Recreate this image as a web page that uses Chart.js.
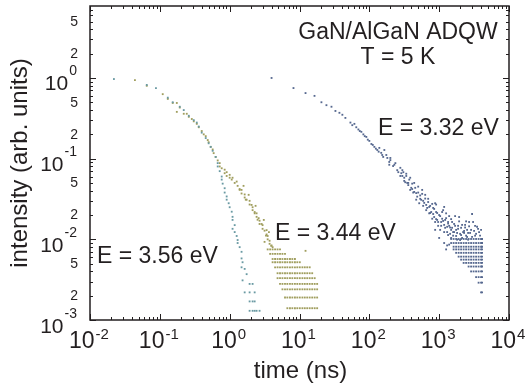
<!DOCTYPE html>
<html>
<head>
<meta charset="utf-8">
<script src="https://cdn.jsdelivr.net/npm/chart.js@4.4.1/dist/chart.umd.min.js"></script>
<style>
  html, body { margin: 0; padding: 0; background: #fff; }
  #wrap { width: 527px; height: 390px; }
</style>
</head>
<body>
<div id="wrap"><canvas id="decayChart"></canvas></div>
<script>
// axis decades and the small labels on the intensity axis
const xDecades = [-2, -1, 0, 1, 2, 3, 4];
const yDecades = [0, -1, -2, -3];
const yMinorLabels = [5, 2, 0.5, 0.2, 0.05, 0.02, 0.005, 0.002];
const xTitle = 'time (ns)';
const yTitle = 'intensity (arb. units)';
const sampleText = ['GaN/AlGaN ADQW', 'T = 5 K'];
const seriesNames = ['E = 3.56 eV', 'E = 3.44 eV', 'E = 3.32 eV'];
const seriesColors = ['#6a9aa3', '#a09e5e', '#56688f'];

// [time (ns), intensity]
const e356 = [
  [0.022,0.97],[0.065,0.82],[0.088,0.75],[0.13,0.57],[0.153,0.50],[0.193,0.44],[0.22,0.40],
  [0.26,0.34],[0.306,0.30],[0.338,0.28],[0.361,0.25],[0.398,0.21],[0.454,0.18],[0.50,0.155],
  [0.535,0.14],[0.571,0.125],[0.63,0.105],[0.674,0.088],[0.674,0.080],[0.72,0.070],[0.769,0.060],
  [0.769,0.055],[0.794,0.049],[0.848,0.043],[0.848,0.038],[0.906,0.034],[0.906,0.031],[0.968,0.028],
  [1.0,0.025],[1.07,0.022],[1.10,0.019],[1.10,0.0174],[1.10,0.0135],[1.18,0.0150],[1.18,0.0123],
  [1.26,0.0110],[1.30,0.0098],[1.30,0.0090],[1.39,0.0080],[1.48,0.0070],[1.48,0.0058],[1.53,0.0052],
  [1.48,0.0045],[1.64,0.0043],[1.75,0.0037],[1.53,0.0031],[1.93,0.0028],[2.13,0.0028],
  [1.64,0.0022],[1.93,0.0022],[2.28,0.0022],[1.93,0.0017],[2.13,0.0017],[2.28,0.0017],
  [1.93,0.0013],[2.13,0.0013],[2.28,0.0013],[2.43,0.0013],[2.68,0.0013]
];

const e344Decay = [
  [0.044,0.94],[0.065,0.80],[0.11,0.63],[0.13,0.55],[0.153,0.49],[0.175,0.49],[0.175,0.38],
  [0.193,0.43],[0.22,0.36],[0.243,0.36],[0.26,0.33],[0.287,0.31],[0.306,0.29],[0.338,0.27],
  [0.361,0.245],[0.398,0.22],[0.425,0.20],[0.454,0.19],[0.485,0.17],[0.50,0.16],[0.535,0.14],
  [0.571,0.13],[0.59,0.117],[0.63,0.105],[0.674,0.095],[0.72,0.088],[0.72,0.080],[0.769,0.076],
  [0.848,0.073],[0.848,0.066],[0.906,0.068],[0.906,0.061],[1.0,0.063],[1.0,0.058],[1.07,0.055],
  [1.10,0.058],[1.18,0.050],[1.26,0.052],[1.30,0.046],[1.39,0.042],[1.39,0.041],[1.48,0.041],
  [1.48,0.037],[1.58,0.046],[1.64,0.036],[1.64,0.033],[1.70,0.031],[1.75,0.031],[1.87,0.0356],
  [1.93,0.030],[1.93,0.027],[2.06,0.0267],[2.13,0.025],[2.13,0.023],[2.28,0.021],[2.28,0.0218],
  [2.35,0.026],[2.43,0.019],[2.43,0.021],[2.51,0.0175],[2.60,0.0183],[2.68,0.0170],[2.68,0.0155],
  [2.87,0.0155],[2.96,0.0150],[2.96,0.0135],[3.08,0.0174],[3.16,0.0128],[3.16,0.0093],
  [3.31,0.0111],[3.38,0.0130],[3.38,0.0115],[3.5,0.0110],[3.5,0.0100],[3.65,0.0123],
  [3.73,0.0096],[3.73,0.0088],[3.94,0.0083],[3.98,0.0084],[4.12,0.0080],[12.2,0.0072]
];

// time channels of the 3.44 eV tail and the count levels seen as rows
const tail344Times = [3.5, 3.8, 4.12, 4.47, 4.85, 5.26, 5.7, 6.2, 6.7, 7.3, 7.9, 8.6, 9.3,
  10.1, 11.0, 11.9, 12.9, 14.0, 15.2, 16.5, 17.9];
const tail344Levels = [0.0075, 0.0066, 0.0057, 0.0052, 0.0045, 0.0038, 0.0033, 0.0028,
  0.0024, 0.0019, 0.0014];
const tail344From = [3.5, 3.8, 4.12, 4.12, 4.47, 4.85, 4.85, 5.26, 5.7, 6.2, 6.7];
const tail344To = [5.5, 6.5, 8.6, 10.1, 14.0, 15.2, 16.5, 17.9, 17.9, 17.9, 17.9];

const e332Decay = [
  [3.98,1.0],[8.2,0.75],[12.2,0.65],[16.4,0.60],[20.6,0.50],[24.3,0.46],[28.7,0.44],[32.7,0.39],
  [37.3,0.37],[41.1,0.35],[45.4,0.32],[53.6,0.28],[57,0.26],[61.1,0.27],[65,0.245],[69.7,0.23],
  [73,0.22],[76.9,0.215],[82.1,0.20],[86,0.19],[90.6,0.186],[95,0.172],[100,0.166],[107,0.152],
  [112,0.148],[118,0.14],[124,0.133],[130,0.128],[136,0.122],[139,0.136],[148,0.118],[153,0.111],
  [158,0.105],[164,0.128],[175,0.111],[181,0.102],[193,0.084],[193,0.091],[200,0.096],[200,0.102],
  [219,0.081],[228,0.084],[236,0.088],[251,0.072],[260,0.068],[278,0.077],[287,0.066],[297,0.061],
  [307,0.068],[316,0.058],[327,0.051],[338,0.061],[349,0.050],[361,0.047],[373,0.055],[385,0.041],
  [398,0.0435],[411,0.049],[425,0.038],[439,0.0387],[454,0.0435],[469,0.031],[485,0.0338],
  [501,0.038],[518,0.028],[535,0.035],[553,0.0309],[571,0.041],[590,0.026],[611,0.0283],
  [631,0.032],[652,0.023],[674,0.0245],[696,0.029],[720,0.021],[743,0.026],[769,0.0218],
  [795,0.018],[821,0.0245],[848,0.0189],[876,0.0164],[876,0.0131],[905,0.0218],[905,0.027],
  [936,0.0174],[967,0.0147],[1000,0.020],[1000,0.0104],[1033,0.0131],[1068,0.0164],[1103,0.018],
  [1140,0.023],[1179,0.0151],[1179,0.0123],[1179,0.009],[1218,0.0174],[1258,0.021],[1258,0.0075],
  [1301,0.0143],[1301,0.0084],[1343,0.0113],[1343,0.0157],[1390,0.0194],[1390,0.0086],[1435,0.014],
  [1484,0.0131],[1484,0.0104],[1532,0.0164],[1585,0.0123],[1638,0.0123],[1692,0.0147],
  [1692,0.0194],[1750,0.011],[1807,0.012],[1867,0.0135],[1931,0.0167],[1995,0.0098],[2061,0.0113],
  [2131,0.0151],[2203,0.0123],[2276,0.012],[2352,0.014],[2431,0.0167],[2512,0.0107],[2597,0.012],
  [2683,0.0145],[2865,0.0131],[2960,0.0206],[3060,0.0164],[3270,0.0111],[3490,0.0143],
  [3728,0.0123],[3981,0.0131]
];

const e332Cloud = [
  [278,0.061],[297,0.072],[316,0.053],[338,0.065],[361,0.050],[385,0.058],[411,0.042],[439,0.050],
  [469,0.0374],[501,0.045],[535,0.0318],[571,0.0366],[590,0.030],[631,0.0356],[652,0.0267],
  [696,0.0318],[720,0.0252],[743,0.0212],[795,0.0275],[821,0.0206],[848,0.0238],[876,0.028],
  [905,0.0178],[936,0.0212],[967,0.0164],[1033,0.0194],[1068,0.0147],[1103,0.0218],[1140,0.0169],
  [1179,0.0252],[1218,0.0139],[1258,0.0183],[1301,0.0123],[1343,0.0164],[1390,0.0147],
  [1435,0.0117],[1484,0.0178],[1532,0.0139],[1585,0.0111],[1638,0.0155],[1750,0.0131],
  [1807,0.0099],[1867,0.0147],[1931,0.0189],[1995,0.0117],[2061,0.0139],[2131,0.0104],
  [2276,0.0127],[2352,0.0151],[2431,0.0111],[2512,0.0131],[2597,0.0099],[2683,0.0164],
  [2772,0.012],[2960,0.0107],[3162,0.0127],[3268,0.0147],[3378,0.0117],[3606,0.0135],[3853,0.0111]
];

// time channels of the 3.32 eV tail and the count levels seen as rows
const tail332Times = [1484, 1610, 1750, 1900, 2061, 2240, 2431, 2640, 2865, 3110, 3378,
  3670, 3981, 4115];
const tail332Levels = [0.0101, 0.0090, 0.0081, 0.0075, 0.0068, 0.0061, 0.0056, 0.0051,
  0.0046, 0.0040, 0.0034, 0.0029, 0.0022];
const tail332From = [1484, 1484, 1610, 1610, 1750, 1900, 2061, 2240, 2640, 2865, 3378, 3670, 3981];

const INK = '#231f20';
const FONT = "'Liberation Sans', Arial, sans-serif";

function toPoints(pairs) {
  return pairs.map(([x, y]) => ({ x, y }));
}

function rowPoints(times, levels, from, to) {
  const pts = [];
  levels.forEach((level, i) => {
    times.forEach(t => {
      if (t >= from[i] && (!to || t <= to[i])) pts.push({ x: t, y: level });
    });
  });
  return pts;
}

function logTicks(min, max) {
  const out = [];
  for (let e = Math.floor(Math.log10(min)); e <= Math.ceil(Math.log10(max)); e++) {
    for (let m = 1; m < 10; m++) {
      const v = m * Math.pow(10, e);
      if (v >= min * 0.999 && v <= max * 1.001) out.push({ value: v });
    }
  }
  return out;
}

function isDecade(v) {
  const l = Math.log10(v);
  return Math.abs(l - Math.round(l)) < 1e-6;
}

// frame, inward ticks, power-of-ten labels, titles and notes
const decor = {
  id: 'decor',
  afterDraw(chart) {
    const { ctx, chartArea: a, scales: { x, y } } = chart;
    ctx.save();
    ctx.strokeStyle = INK;
    ctx.fillStyle = INK;

    ctx.lineWidth = 1;
    ctx.beginPath();
    x.ticks.forEach(t => {
      const px = Math.round(x.getPixelForValue(t.value)) + 0.5;
      const len = isDecade(t.value) ? 6 : 3;
      ctx.moveTo(px, a.bottom); ctx.lineTo(px, a.bottom - len);
      ctx.moveTo(px, a.top); ctx.lineTo(px, a.top + len);
    });
    y.ticks.forEach(t => {
      const py = Math.round(y.getPixelForValue(t.value)) + 0.5;
      const len = isDecade(t.value) ? 6 : 3;
      ctx.moveTo(a.left, py); ctx.lineTo(a.left + len, py);
      ctx.moveTo(a.right, py); ctx.lineTo(a.right - len, py);
    });
    ctx.stroke();

    ctx.lineWidth = 1.5;
    ctx.strokeRect(a.left, a.top, a.right - a.left, a.bottom - a.top);

    // y axis labels
    ctx.textAlign = 'right';
    ctx.textBaseline = 'alphabetic';
    yDecades.forEach(e => {
      const py = y.getPixelForValue(Math.pow(10, e));
      const sup = String(e);
      ctx.font = '14px ' + FONT;
      const sw = ctx.measureText(sup).width;
      const rx = a.left - 13;
      ctx.fillText(sup, rx, py - 2.5);
      ctx.font = '21px ' + FONT;
      ctx.fillText('10', rx - sw - 1, py + 12.5);
    });
    ctx.font = '14px ' + FONT;
    ctx.textBaseline = 'middle';
    yMinorLabels.forEach(v => {
      const py = y.getPixelForValue(v);
      ctx.fillText(String(v).replace(/^0\.0*/, ''), a.left - 12, py + 0.5);
    });

    // x axis labels
    ctx.textAlign = 'left';
    ctx.textBaseline = 'alphabetic';
    xDecades.forEach(e => {
      const px = x.getPixelForValue(Math.pow(10, e));
      const sup = String(e);
      ctx.font = '23px ' + FONT;
      const mw = ctx.measureText('10').width;
      ctx.font = '15px ' + FONT;
      const sw = ctx.measureText(sup).width;
      const left = px - (mw + sw + 1) / 2 - 1;
      ctx.font = '23px ' + FONT;
      ctx.fillText('10', left, a.bottom + 28);
      ctx.font = '15px ' + FONT;
      ctx.fillText(sup, left + mw + 1, a.bottom + 19);
    });

    // axis titles
    ctx.font = '24px ' + FONT;
    ctx.textAlign = 'center';
    ctx.fillText(xTitle, (a.left + a.right) / 2 + 1, a.bottom + 58);
    ctx.save();
    ctx.translate(27, (a.top + a.bottom) / 2);
    ctx.rotate(-Math.PI / 2);
    ctx.fillText(yTitle, 0, 0);
    ctx.restore();

    // notes inside the frame
    ctx.font = '23px ' + FONT;
    ctx.fillText(sampleText[0], 398, 39);
    ctx.fillText(sampleText[1], 398, 64);
    ctx.textAlign = 'left';
    ctx.fillText(seriesNames[2], 378, 135);
    ctx.fillText(seriesNames[1], 275, 240);
    ctx.fillText(seriesNames[0], 97, 263);
    ctx.restore();
  }
};

const ctx = document.getElementById('decayChart').getContext('2d');

const makeSet = (label, points, color) => ({
  label,
  data: points,
  backgroundColor: color,
  borderWidth: 0,
  pointStyle: 'rect',
  pointRadius: 1.3,
  pointHoverRadius: 1.3
});

new Chart(ctx, {
  type: 'scatter',
  data: {
    datasets: [
      makeSet(seriesNames[0], toPoints(e356), seriesColors[0]),
      makeSet(seriesNames[1], toPoints(e344Decay).concat(
        rowPoints(tail344Times, tail344Levels, tail344From, tail344To)), seriesColors[1]),
      makeSet(seriesNames[2], toPoints(e332Decay).concat(toPoints(e332Cloud),
        rowPoints(tail332Times, tail332Levels, tail332From)), seriesColors[2])
    ]
  },
  options: {
    responsive: true,
    maintainAspectRatio: false,
    animation: false,
    layout: { padding: { left: 90, right: 18, top: 6, bottom: 70 } },
    plugins: {
      legend: { display: false },
      tooltip: { enabled: false }
    },
    scales: {
      x: {
        type: 'logarithmic',
        min: 0.01,
        max: 10000,
        afterBuildTicks: s => { s.ticks = logTicks(s.min, s.max); },
        ticks: { display: false },
        grid: { display: false, drawTicks: false },
        border: { display: false }
      },
      y: {
        type: 'logarithmic',
        min: 0.001,
        max: 7.8,
        afterBuildTicks: s => { s.ticks = logTicks(s.min, s.max); },
        ticks: { display: false },
        grid: { display: false, drawTicks: false },
        border: { display: false }
      }
    }
  },
  plugins: [decor]
});
</script>
</body>
</html>
